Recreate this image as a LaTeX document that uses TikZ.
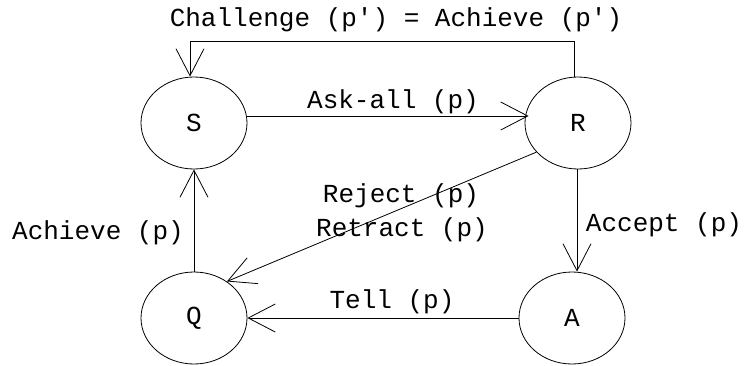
\documentclass[tikz,border=0pt]{standalone}
\usepackage{fontspec}
\setmonofont{Liberation Mono}
\usetikzlibrary{arrows.meta,shapes.geometric,calc}
\begin{document}
\begin{tikzpicture}[x=1pt,y=-1pt,
  state/.style={draw,ellipse,line width=0.8pt,minimum width=106pt,minimum height=92pt,inner sep=0pt,font=\ttfamily\fontsize{26}{30}\selectfont},
  lbl/.style={anchor=base,inner sep=0pt,font=\ttfamily\fontsize{26}{30}\selectfont},
  arr/.style={line width=0.8pt,-{Straight Barb[length=27pt,width=28pt,line width=0.8pt]}},
  ln/.style={line width=0.8pt}]
\useasboundingbox (0,0) rectangle (745,365);
\node[state] (S) at (194,123) {S};
\node[state] (R) at (578,123) {R};
\node[state] (Q) at (194,318) {Q};
\node[state] (A) at (572,318) {A};
\coordinate (tr) at (574,41);
\coordinate (tl) at (190,41);
\draw[arr] (R.north -| tr) -- (tr) -- (tl) -- (S.north -| tl);
\draw[arr] ($(S.east)+(0,-7)$) -- ($(R.west)+(4,-7)$);
\draw[arr] (Q.north) -- (S.south);
\draw[arr] (R.south -| 577,0) -- (A.north -| 577,0);
\draw[arr] (A.west) -- (Q.east);
\draw[arr] (R.215) -- (Q.48);
\node[lbl] (t1) at (396,26) {Challenge (p') = Achieve (p')};
\node[lbl] (t2) at (393,108) {Ask-all (p)};
\node[lbl] (t3) at (98,239) {Achieve (p)};
\node[lbl] (t4) at (401,202) {Reject (p)};
\node[lbl] (t5) at (402,236) {Retract (p)};
\node[lbl] (t6) at (392,308) {Tell (p)};
\node[lbl] (t7) at (664,231) {Accept (p)};
\end{tikzpicture}
\end{document}
